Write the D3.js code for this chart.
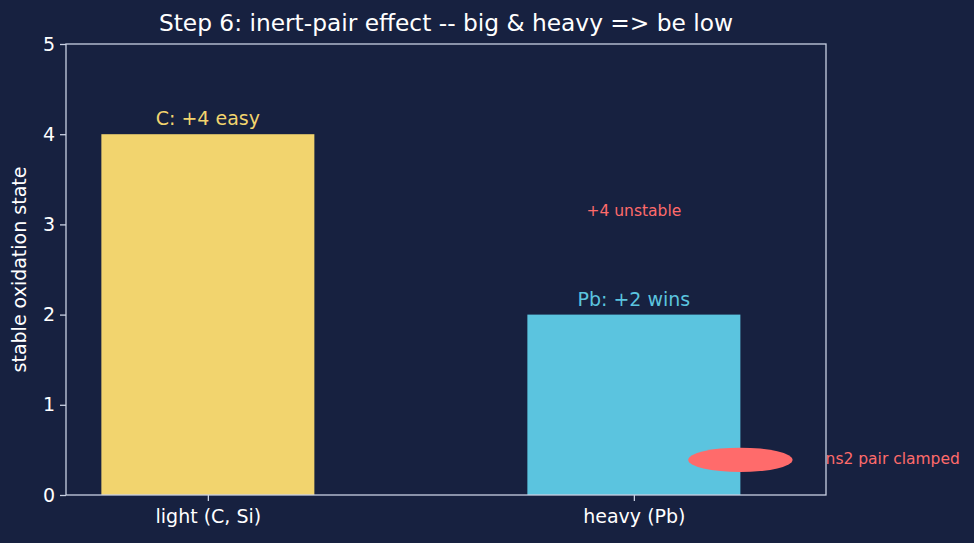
<!DOCTYPE html>
<html lang="en">
<head>
    <meta charset="UTF-8">
    <title>Inert-pair effect</title>
    <script src="https://d3js.org/d3.v7.min.js"></script>
    <style>
        body {
            margin: 0;
            background-color: #172140;
        }
        svg text {
            font-family: "DejaVu Sans", sans-serif;
        }
    </style>
</head>
<body>
    <svg id="chart" width="974" height="543"></svg>
    <script>
        // chart data
        const categories = ["light (C, Si)", "heavy (Pb)"];
        const states = [4, 2];
        const barColors = ["#f2d46e", "#5bc4df"];
        const barLabels = ["C: +4 easy", "Pb: +2 wins"];
        const yTicks = [0, 1, 2, 3, 4, 5];
        const notes = [
            { x: 1.0, y: 3.15, text: "+4 unstable", anchor: "middle" },
            { x: 1.45, y: 0.4, text: "ns2 pair clamped", anchor: "start" }
        ];
        const pairBlob = { x: 1.25, y: 0.39, w: 0.245, h: 0.27 };

        const svg = d3.select("#chart");
        const margin = { left: 66, right: 148, top: 44, bottom: 48 };
        const width = 974, height = 543;

        // numeric x so bars can sit at 0 and 1
        const x = d3.scaleLinear()
            .domain([-0.333, 1.451])
            .range([margin.left, width - margin.right]);
        const y = d3.scaleLinear()
            .domain([0, 5])
            .range([height - margin.bottom, margin.top]);

        const axisCol = "#c8d0e2";
        const barW = 0.5;

        // bars
        svg.selectAll("rect.bar")
            .data(states)
            .enter().append("rect")
            .attr("class", "bar")
            .attr("x", (d, i) => x(i - barW / 2))
            .attr("width", (d, i) => x(i + barW / 2) - x(i - barW / 2))
            .attr("y", d => y(d))
            .attr("height", d => y(0) - y(d))
            .attr("fill", (d, i) => barColors[i]);

        // bar labels
        svg.selectAll("text.blabel")
            .data(states)
            .enter().append("text")
            .attr("x", (d, i) => x(i))
            .attr("y", d => y(d + 0.1))
            .attr("text-anchor", "middle")
            .attr("fill", (d, i) => barColors[i])
            .style("font-size", "19px")
            .text((d, i) => barLabels[i]);

        // the clamped s-pair
        svg.append("ellipse")
            .attr("cx", x(pairBlob.x))
            .attr("cy", y(pairBlob.y))
            .attr("rx", (x(pairBlob.w) - x(0)) / 2)
            .attr("ry", (y(0) - y(pairBlob.h)) / 2)
            .attr("fill", "#ff6b6b");

        // notes
        svg.selectAll("text.note")
            .data(notes)
            .enter().append("text")
            .attr("x", d => x(d.x))
            .attr("y", d => y(d.y))
            .attr("dy", "0.35em")
            .attr("text-anchor", d => d.anchor)
            .attr("fill", "#ff6b6b")
            .style("font-size", "15.5px")
            .text(d => d.text);

        // frame (spines)
        svg.append("rect")
            .attr("x", margin.left)
            .attr("y", margin.top)
            .attr("width", width - margin.left - margin.right)
            .attr("height", height - margin.top - margin.bottom)
            .attr("fill", "none")
            .attr("stroke", axisCol)
            .attr("stroke-width", 1.3);

        // y axis
        const yAxis = svg.append("g")
            .attr("transform", `translate(${margin.left},0)`)
            .call(d3.axisLeft(y).tickValues(yTicks).tickSize(6).tickPadding(5).tickFormat(d3.format("d")));
        // x axis
        const xAxis = svg.append("g")
            .attr("transform", `translate(0,${height - margin.bottom})`)
            .call(d3.axisBottom(x).tickValues([0, 1]).tickSize(6).tickPadding(9).tickFormat(i => categories[i]));

        [yAxis, xAxis].forEach(g => {
            g.select(".domain").remove();
            g.selectAll("line").attr("stroke", axisCol).attr("stroke-width", 1.3);
            g.selectAll("text").attr("fill", "#ffffff").style("font-size", "19px")
                .style("font-family", "'DejaVu Sans', sans-serif");
        });

        // y label
        svg.append("text")
            .attr("transform", `translate(26,${(margin.top + height - margin.bottom) / 2}) rotate(-90)`)
            .attr("text-anchor", "middle")
            .attr("fill", "#ffffff")
            .style("font-size", "19px")
            .text("stable oxidation state");

        // title
        svg.append("text")
            .attr("x", (margin.left + width - margin.right) / 2)
            .attr("y", 31)
            .attr("text-anchor", "middle")
            .attr("fill", "#ffffff")
            .style("font-size", "23.3px")
            .text("Step 6: inert-pair effect -- big & heavy => be low");
    </script>
</body>
</html>
